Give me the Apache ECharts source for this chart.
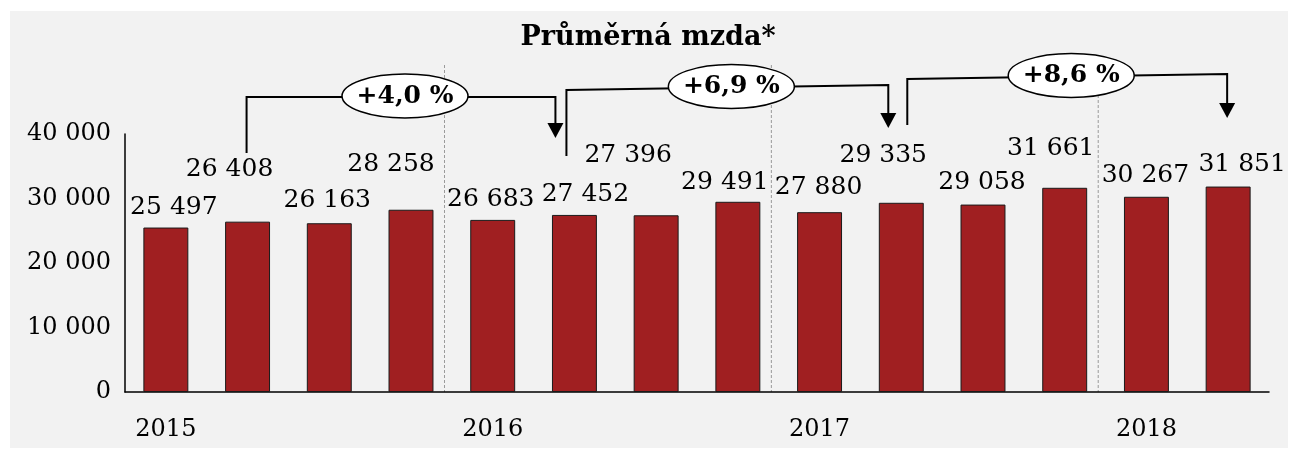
<!DOCTYPE html>
<html>
<head>
<meta charset="utf-8">
<script src="https://cdn.jsdelivr.net/npm/echarts@6/dist/echarts.min.js"></script>
<style>
html, body { margin: 0; padding: 0; background: #fff; }
#chart { width: 1296px; height: 450px; }
</style>
</head>
<body>
<div id="chart"></div>
<script>
var quarters = ['2015 Q1', '2015 Q2', '2015 Q3', '2015 Q4',
                '2016 Q1', '2016 Q2', '2016 Q3', '2016 Q4',
                '2017 Q1', '2017 Q2', '2017 Q3', '2017 Q4',
                '2018 Q1', '2018 Q2'];
var wages = [25497, 26408, 26163, 28258, 26683, 27452, 27396, 29491, 27880, 29335, 29058, 31661, 30267, 31851];
var yTicks = [0, 10000, 20000, 30000, 40000];

// year-on-year comparisons shown as brackets (bar index from -> to)
var growth = [
    {from: 1, to: 5, text: '+4,0 %'},
    {from: 5, to: 9, text: '+6,9 %'},
    {from: 9, to: 13, text: '+8,6 %'}
];
// dashed separator after the last quarter of each year
var yearEnds = [3, 7, 11];

// nudges for value labels so they don't collide with the brackets
var labelShift = [[8, -3], [-18, -35], [-2, -5], [-20, -28], [-2, -3], [11, -3], [-28, -42],
                  [-13, -2], [-1, -7], [-18, -30], [-1, -5], [-14, -22], [-1, -4], [14, -5]];
// bracket geometry: [left x nudge, right x nudge], [left foot y, left top y, right top y, arrow tip y]
var bracketX = [[-1, -19], [-8, -13], [6, -1]];
var bracketY = [[153, 97, 97, 138], [156, 90, 85, 128], [125, 79, 74, 118]];

var FONT = '"DejaVu Serif", Georgia, serif';

function spaced(v) {
    return String(v).replace(/\B(?=(\d{3})+(?!\d))/g, ' ');
}

var dom = document.getElementById('chart');
var myChart = echarts.init(dom);

var barData = wages.map(function (v, i) {
    return {value: v, label: {offset: labelShift[i]}};
});

var option = {
    animation: false,
    backgroundColor: '#fff',
    title: {
        text: 'Průměrná mzda*',
        left: 'center',
        top: 19,
        textStyle: {fontFamily: FONT, fontWeight: 'bold', fontSize: 27, color: '#000'}
    },
    grid: {left: 125, right: 27, top: 134, bottom: 58},
    xAxis: {
        type: 'category',
        data: quarters,
        axisTick: {show: false},
        axisLine: {lineStyle: {color: '#000', width: 1.5}},
        axisLabel: {
            interval: 0,
            margin: 26,
            fontFamily: FONT,
            fontSize: 24,
            color: '#000',
            formatter: function (v) { return v.slice(-2) === 'Q1' ? v.slice(0, 4) : ''; }
        }
    },
    yAxis: {
        type: 'value',
        min: yTicks[0],
        max: yTicks[yTicks.length - 1],
        interval: yTicks[1] - yTicks[0],
        axisLine: {show: true, lineStyle: {color: '#000', width: 1.5}},
        axisTick: {show: false},
        splitLine: {show: false},
        axisLabel: {margin: 14, fontFamily: FONT, fontSize: 24, color: '#000', formatter: spaced}
    },
    series: [{
        type: 'bar',
        barWidth: '55%',
        data: barData,
        itemStyle: {color: '#a01f21', borderColor: '#1a1a1a', borderWidth: 1},
        label: {
            show: true,
            position: 'top',
            fontFamily: FONT,
            fontSize: 25,
            color: '#000',
            formatter: function (p) { return spaced(p.value); }
        }
    }]
};
myChart.setOption(option);

// annotations drawn from the chart's own scale
function cx(i) { return myChart.convertToPixel({seriesIndex: 0}, [i, 0])[0]; }
var baseY = myChart.convertToPixel({seriesIndex: 0}, [0, 0])[1];

var els = [{
    type: 'rect', z: -10, silent: true,
    shape: {x: 10, y: 11, width: 1278, height: 437},
    style: {fill: '#f2f2f2'}
}];

yearEnds.forEach(function (i) {
    var x = cx(i) + 0.41 * (cx(i + 1) - cx(i));
    els.push({
        type: 'line', silent: true,
        shape: {x1: x, y1: 65, x2: x, y2: baseY},
        style: {stroke: '#9a9a9a', lineWidth: 1, lineDash: [3, 2]}
    });
});

growth.forEach(function (g, k) {
    var lx = cx(g.from) + bracketX[k][0];
    var rx = cx(g.to) + bracketX[k][1];
    var yy = bracketY[k];
    els.push({
        type: 'polyline', silent: true,
        shape: {points: [[lx, yy[0]], [lx, yy[1]], [rx, yy[2]], [rx, yy[3] - 14]]},
        style: {stroke: '#000', lineWidth: 2, fill: null}
    });
    els.push({
        type: 'polygon', silent: true,
        shape: {points: [[rx - 8, yy[3] - 15], [rx + 8, yy[3] - 15], [rx, yy[3]]]},
        style: {fill: '#000'}
    });
    var ex = (lx + rx) / 2 + 4;
    var ey = yy[1] + (yy[2] - yy[1]) * (ex - lx) / (rx - lx) - 1;
    els.push({
        type: 'ellipse', silent: true,
        shape: {cx: ex, cy: ey, rx: 63, ry: 22},
        style: {fill: '#fff', stroke: '#000', lineWidth: 1.5}
    });
    els.push({
        type: 'text', silent: true,
        x: ex, y: ey,
        style: {
            text: g.text,
            font: 'bold 25px ' + FONT,
            fill: '#000',
            align: 'center', verticalAlign: 'middle',
            textAlign: 'center', textVerticalAlign: 'middle'
        }
    });
});

myChart.setOption({graphic: {elements: els}});
</script>
</body>
</html>
